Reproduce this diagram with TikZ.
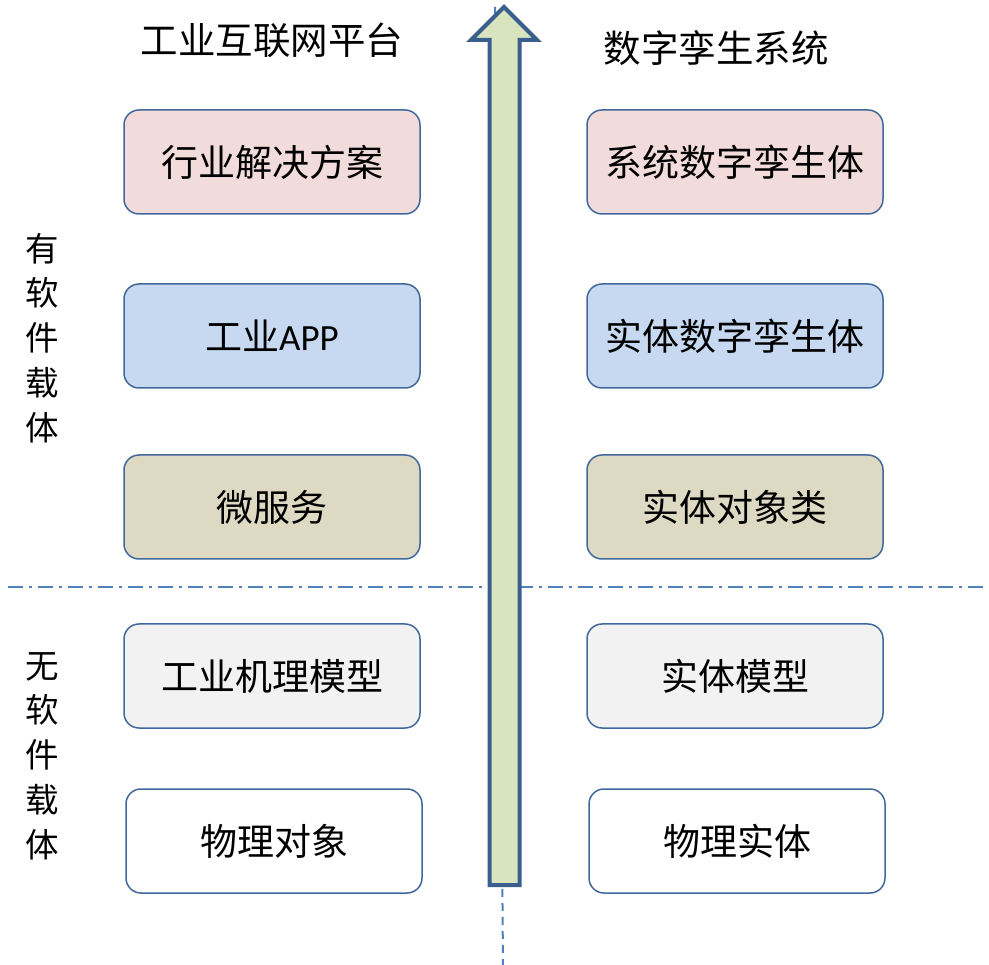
\documentclass[tikz,border=0pt]{standalone}
\usepackage{fontspec}
\setmainfont{Noto Sans CJK SC}
\newfontfamily\latinf{Carlito}
\definecolor{boxline}{HTML}{41689A}
\definecolor{arrline}{HTML}{3A5F8E}
\definecolor{arrfill}{HTML}{D7E4BD}
\definecolor{sepline}{HTML}{4F81BD}
\definecolor{fpink}{HTML}{F2DCDB}
\definecolor{fblue}{HTML}{C6D9F1}
\definecolor{ftan}{HTML}{DDD9C3}
\definecolor{fgray}{HTML}{F2F2F2}
\begin{document}
\begin{tikzpicture}[x=1pt,y=-1pt,
  layerbox/.style={draw=boxline,line width=1.5pt,rounded corners=15pt,minimum width=296pt,minimum height=104pt,inner sep=0pt,font=\fontsize{37}{40}\selectfont},
  titletext/.style={font=\fontsize{37.5}{40}\selectfont,inner sep=0pt},
  sidetext/.style={font=\fontsize{33.5}{44.8}\selectfont,align=center,inner sep=0pt}]
\useasboundingbox (0,0) rectangle (989,965);
% vertical dashed guide behind the arrow
\coordinate (gtop) at (495,7);
\coordinate (gbot) at (503,965);
\draw[sepline,line width=2pt,dash pattern=on 8pt off 6pt] (gtop) -- (gbot);
% horizontal dash-dot separator
\coordinate (sepL) at (8,587);
\coordinate (sepR) at (985,587);
\draw[sepline,line width=2pt,dash pattern=on 15pt off 6pt on 3pt off 6pt] (sepL) -- (sepR);
% big upward arrow
\draw[arrline,line width=4pt,fill=arrfill,line join=miter]
  (489.5,885) -- (489.5,40) -- (471,40) -- (504,7) -- (537,40) -- (519.5,40) -- (519.5,885) -- cycle;
% titles
\node[titletext] (t1) at (272,40) {工业互联网平台};
\node[titletext] (t2) at (716,48) {数字孪生系统};
% side labels
\node[sidetext] (s1) at (42,338) {有\\软\\件\\载\\体};
\node[sidetext] (s2) at (42,756) {无\\软\\件\\载\\体};
% left column
\node[layerbox,fill=fpink] (l1) at (272,162) {行业解决方案};
\node[layerbox,fill=fblue] (l2) at (272,336) {工业{\latinf APP}};
\node[layerbox,fill=ftan] (l3) at (272,507) {微服务};
\node[layerbox,fill=fgray] (l4) at (272,676) {工业机理模型};
\node[layerbox,fill=white] (l5) at (274,841) {物理对象};
% right column
\node[layerbox,fill=fpink] (r1) at (735,162) {系统数字孪生体};
\node[layerbox,fill=fblue] (r2) at (735,336) {实体数字孪生体};
\node[layerbox,fill=ftan] (r3) at (735,507) {实体对象类};
\node[layerbox,fill=fgray] (r4) at (735,676) {实体模型};
\node[layerbox,fill=white] (r5) at (737,841) {物理实体};
\end{tikzpicture}
\end{document}
